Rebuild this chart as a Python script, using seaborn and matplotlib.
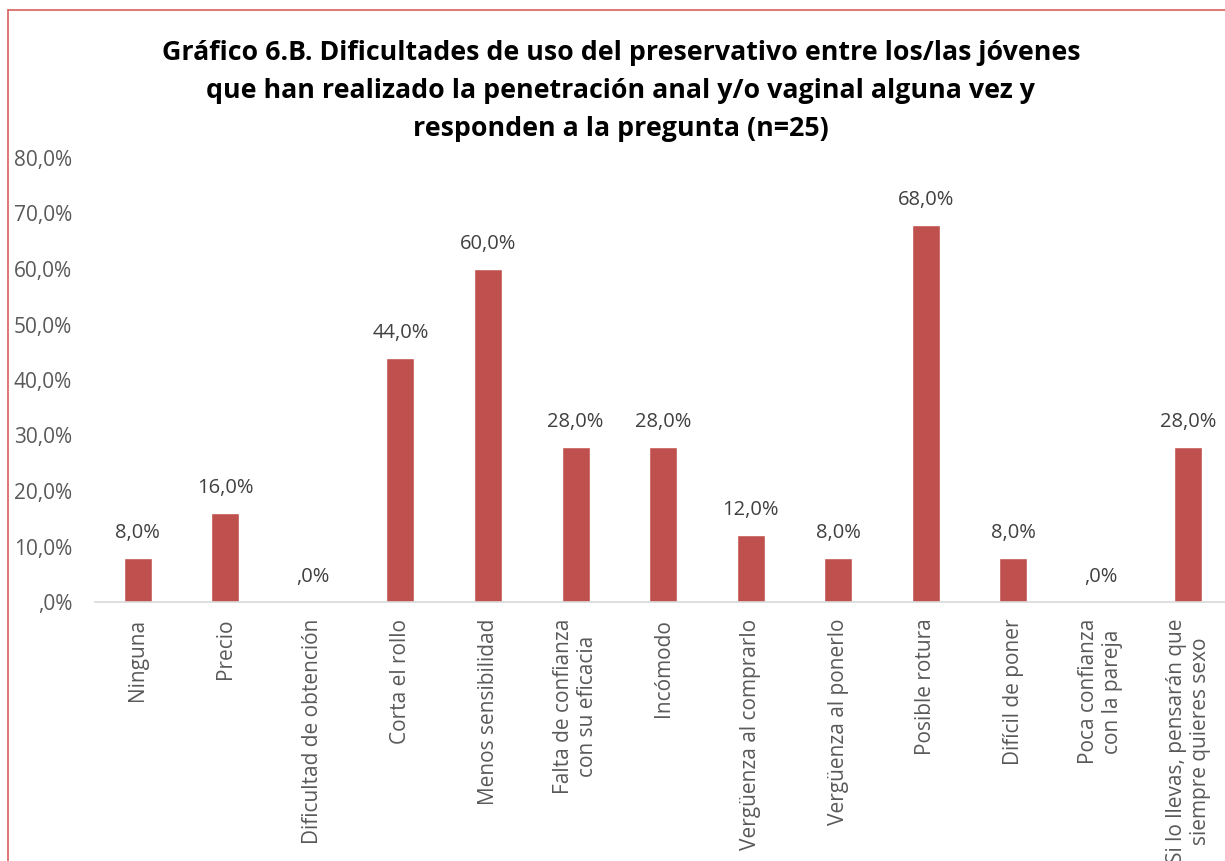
import matplotlib
matplotlib.use("Agg")
import matplotlib.pyplot as plt
import seaborn as sns
import pandas as pd
from matplotlib.lines import Line2D
from matplotlib.ticker import FuncFormatter

categories = [
    "Ninguna", "Precio", "Dificultad de obtención", "Corta el rollo",
    "Menos sensibilidad", "Falta de confianza\ncon su eficacia", "Incómodo",
    "Vergüenza al comprarlo", "Vergüenza al ponerlo", "Posible rotura",
    "Difícil de poner", "Poca confianza\ncon la pareja",
    "Si lo llevas, pensarán que\nsiempre quieres sexo",
]
values = [8.0, 16.0, 0.0, 44.0, 60.0, 28.0, 28.0, 12.0, 8.0, 68.0, 8.0, 0.0, 28.0]
yticks = [0, 10, 20, 30, 40, 50, 60, 70, 80]
title = ("Gráfico 6.B. Dificultades de uso del preservativo entre los/las jóvenes\n"
         "que han realizado la penetración anal y/o vaginal alguna vez y\n"
         "responden a la pregunta (n=25)")

sns.set_theme(style="white")
plt.rcParams["font.family"] = ["Open Sans", "DejaVu Sans"]

df = pd.DataFrame({"cat": categories, "val": values})

fig = plt.figure(figsize=(12.25, 8.61), dpi=100)
ax = fig.add_axes([95/1225, 1-602/861, 1-95/1225, (602-158)/861])

sns.barplot(data=df, x="cat", y="val", color="#c0504d", width=0.32,
            saturation=1, ax=ax)

def fmt(v):
    s = f"{v:.1f}".replace(".", ",")
    if s.startswith("0,"):
        s = s[1:]
    return s + "%"

for i, v in enumerate(values):
    ax.text(i, v + 2.7, fmt(v), ha="center", va="bottom", fontsize=14.5,
            color="#404040")

ax.set_ylim(0, 80)
ax.set_xlim(-0.49, 12.42)
ax.set_yticks(yticks)
ax.yaxis.set_major_formatter(FuncFormatter(lambda v, p: fmt(v)))
ax.set_xlabel("")
ax.set_ylabel("")
ax.tick_params(axis="y", length=0, pad=16.5, labelsize=15, labelcolor="#595959")
ax.tick_params(axis="x", length=0, pad=12, labelsize=15, labelcolor="#595959")
ax.set_xticks(range(len(categories)))
ax.set_xticklabels(categories, rotation=90, ha="center", va="top",
                   multialignment="center")
for s in ["top", "right", "left"]:
    ax.spines[s].set_visible(False)
ax.spines["bottom"].set_color("#d9d9d9")
ax.spines["bottom"].set_linewidth(1.2)

fig.text(621/1225, 1-91/861, title, ha="center", va="center",
         fontsize=19.3, fontweight="bold", color="#000000", linespacing=1.6)

border = "#d9605c"
fig.add_artist(Line2D([8/1225, 8/1225], [0, 1-10/861], transform=fig.transFigure,
                      color=border, lw=1.2))
fig.add_artist(Line2D([8/1225, 1], [1-10/861, 1-10/861], transform=fig.transFigure,
                      color=border, lw=1.2))

fig.savefig("out.png", dpi=100)
